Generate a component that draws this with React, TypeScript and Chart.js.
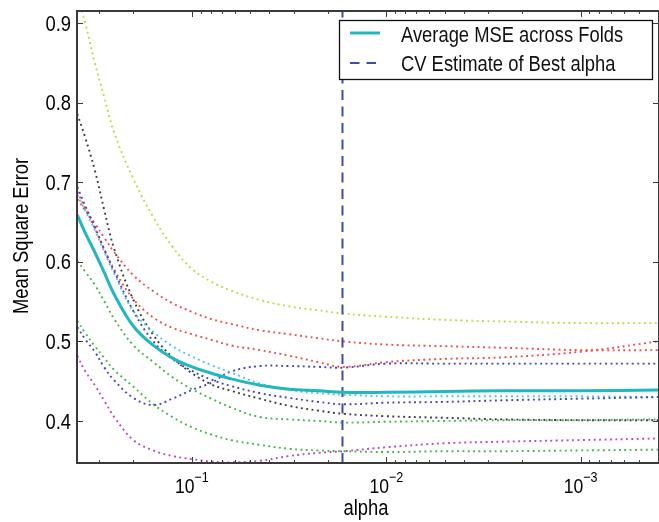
import React, { useEffect, useRef } from "react";
import { Chart, registerables } from "chart.js";

Chart.register(...registerables);

// ---- data ----
const alphas = [0.389, 0.355, 0.316, 0.282, 0.251, 0.2, 0.158, 0.126, 0.1, 0.0794, 0.0631, 0.0447, 0.0316, 0.0224, 0.0166, 0.01, 0.005, 0.0025, 0.001, 0.000398];

const avgMse = [0.659, 0.637, 0.612, 0.586, 0.559, 0.519, 0.495, 0.479, 0.468, 0.46, 0.453, 0.445, 0.44, 0.438, 0.436, 0.436, 0.437, 0.438, 0.438, 0.439];

const foldBlueA = [0.694, 0.671, 0.644, 0.615, 0.588, 0.538, 0.5, 0.478, 0.463, 0.452, 0.444, 0.435, 0.429, 0.424, 0.421, 0.423, 0.424, 0.426, 0.428, 0.43];
const foldGreenA = [0.601, 0.588, 0.571, 0.55, 0.528, 0.495, 0.474, 0.455, 0.44, 0.428, 0.417, 0.405, 0.402, 0.4, 0.398, 0.399, 0.4, 0.401, 0.401, 0.402];
const foldRedA = [0.679, 0.665, 0.648, 0.63, 0.612, 0.583, 0.563, 0.548, 0.537, 0.528, 0.522, 0.514, 0.509, 0.504, 0.5, 0.496, 0.494, 0.492, 0.489, 0.489];
const foldCyan = [0.684, 0.665, 0.64, 0.612, 0.585, 0.538, 0.512, 0.494, 0.481, 0.47, 0.461, 0.447, 0.439, 0.435, 0.433, 0.431, 0.431, 0.431, 0.431, 0.43];
const foldMagenta = [0.482, 0.463, 0.445, 0.425, 0.405, 0.376, 0.363, 0.356, 0.352, 0.349, 0.348, 0.35, 0.356, 0.36, 0.362, 0.367, 0.372, 0.374, 0.376, 0.378];
const foldYellow = [0.935, 0.901, 0.85, 0.806, 0.762, 0.704, 0.656, 0.619, 0.591, 0.575, 0.564, 0.552, 0.544, 0.539, 0.535, 0.531, 0.527, 0.525, 0.523, 0.523];
const foldBlack = [0.786, 0.757, 0.715, 0.664, 0.616, 0.552, 0.508, 0.48, 0.46, 0.446, 0.438, 0.428, 0.419, 0.413, 0.409, 0.406, 0.404, 0.402, 0.401, 0.401];
const foldBlueB = [0.518, 0.503, 0.487, 0.467, 0.451, 0.429, 0.42, 0.428, 0.439, 0.448, 0.462, 0.469, 0.469, 0.468, 0.467, 0.472, 0.472, 0.472, 0.472, 0.472];
const foldGreenB = [0.526, 0.511, 0.494, 0.479, 0.464, 0.443, 0.421, 0.405, 0.392, 0.383, 0.376, 0.37, 0.365, 0.363, 0.362, 0.361, 0.362, 0.362, 0.363, 0.364];
const foldRedB = [0.688, 0.668, 0.642, 0.615, 0.59, 0.553, 0.53, 0.517, 0.509, 0.502, 0.495, 0.489, 0.482, 0.474, 0.468, 0.474, 0.478, 0.48, 0.487, 0.5];

const foldColors = [
  "rgb(64,64,192)", "rgb(70,180,70)", "rgb(240,75,75)", "rgb(70,200,225)", "rgb(190,70,190)",
  "rgb(200,212,70)", "rgb(60,60,60)", "rgb(64,64,192)", "rgb(70,180,70)", "rgb(240,75,75)",
];

const bestAlpha = 0.0168;
const yTicks = [0.4, 0.5, 0.6, 0.7, 0.8, 0.9];
const xMajorTicks = [0.1, 0.01, 0.001];
const xMajorExponents = ["\u22121", "\u22122", "\u22123"];
const legendLabels = ["Average MSE across Folds", "CV Estimate of Best alpha"];
const xTitle = "alpha";
const yTitle = "Mean Square Error";

const X_MIN = 0.000395;
const X_MAX = 0.3903;
const Y_MIN = 0.3472;
const Y_MAX = 0.9151;

const FONT = "'Liberation Sans', Arimo, Arial, sans-serif";
const SX = 0.835; // horizontal squeeze to imitate a narrow Helvetica
const AVG_COLOR = "rgb(32,184,190)";
const BEST_COLOR = "rgb(62,78,168)";
const SPINE = "#3a3a3a";

function drawText(ctx: CanvasRenderingContext2D, text: string, x: number, y: number, size: number, align: CanvasTextAlign, rot = 0) {
  ctx.save();
  ctx.translate(x, y);
  if (rot) ctx.rotate(rot);
  ctx.scale(SX, 1);
  ctx.font = `${size}px ${FONT}`;
  ctx.textAlign = align;
  ctx.textBaseline = "alphabetic";
  ctx.fillText(text, 0, 0);
  ctx.restore();
}

function textWidth(ctx: CanvasRenderingContext2D, text: string, size: number) {
  ctx.save();
  ctx.font = `${size}px ${FONT}`;
  const w = ctx.measureText(text).width * SX;
  ctx.restore();
  return w;
}

const framePlugin = {
  id: "frameAndLegend",
  afterDraw(chart: any) {
    const { ctx, chartArea: ca, scales } = chart;
    const xs = scales.x;
    const ys = scales.y;
    ctx.save();
    const line = (x1: number, y1: number, x2: number, y2: number) => {
      ctx.beginPath();
      ctx.moveTo(x1, y1);
      ctx.lineTo(x2, y2);
      ctx.stroke();
    };
    // spines
    ctx.strokeStyle = SPINE;
    ctx.lineWidth = 2;
    ctx.strokeRect(ca.left, ca.top, ca.right - ca.left, ca.bottom - ca.top);
    // x ticks (inward, with log minor ticks)
    ctx.lineWidth = 1;
    for (let e = -4; e <= 0; e++) {
      for (let m = 1; m <= 9; m++) {
        const v = m * Math.pow(10, e);
        if (v < X_MIN || v > X_MAX) continue;
        const px = Math.round(xs.getPixelForValue(v)) + 0.5;
        const len = m === 1 ? 6 : 3;
        line(px, ca.bottom, px, ca.bottom - len);
        line(px, ca.top, px, ca.top + len);
      }
    }
    // y ticks
    for (const v of yTicks) {
      const py = Math.round(ys.getPixelForValue(v)) + 0.5;
      line(ca.left, py, ca.left + 6, py);
      line(ca.right, py, ca.right - 6, py);
    }
    ctx.fillStyle = "#000";
    // y tick labels
    for (const v of yTicks) {
      const py = ys.getPixelForValue(v);
      drawText(ctx, v.toFixed(1), ca.left - 6, py + 7.7, 22, "right");
    }
    // x tick labels 10^-n
    xMajorTicks.forEach((v, i) => {
      const px = xs.getPixelForValue(v);
      const w1 = textWidth(ctx, "10", 21);
      const w2 = textWidth(ctx, xMajorExponents[i], 15);
      const start = px - (w1 + w2) / 2;
      drawText(ctx, "10", start, ca.bottom + 30, 21, "left");
      drawText(ctx, xMajorExponents[i], start + w1, ca.bottom + 19, 15, "left");
    });
    // axis titles
    drawText(ctx, xTitle, (ca.left + ca.right) / 2 - 2, ca.bottom + 52, 22, "center");
    drawText(ctx, yTitle, 28, (ca.top + ca.bottom) / 2 - 1, 22, "center", -Math.PI / 2);
    // legend
    const lx = ca.right - 320;
    const ly = ca.top + 9;
    const lw = 314;
    const lh = 60;
    ctx.fillStyle = "#fff";
    ctx.fillRect(lx, ly, lw, lh);
    ctx.strokeStyle = "#111";
    ctx.lineWidth = 1.3;
    ctx.strokeRect(lx + 0.5, ly + 0.5, lw - 1, lh - 1);
    ctx.strokeStyle = AVG_COLOR;
    ctx.lineWidth = 3;
    line(lx + 11, ly + 13, lx + 41, ly + 13);
    ctx.strokeStyle = BEST_COLOR;
    ctx.lineWidth = 2;
    ctx.setLineDash([9.5, 7]);
    line(lx + 11, ly + 43, lx + 41, ly + 43);
    ctx.setLineDash([]);
    ctx.fillStyle = "#111";
    drawText(ctx, legendLabels[0], lx + 62, ly + 22, 22, "left");
    drawText(ctx, legendLabels[1], lx + 62, ly + 51, 22, "left");
    ctx.restore();
  },
};

export default function App() {
  const ref = useRef<HTMLCanvasElement>(null);
  useEffect(() => {
    const canvas = ref.current;
    if (!canvas) return;
    const folds = [foldBlueA, foldGreenA, foldRedA, foldCyan, foldMagenta, foldYellow, foldBlack, foldBlueB, foldGreenB, foldRedB];
    const foldSets = folds.map((vals, k) => ({
      label: `Fold ${k + 1}`,
      data: alphas.map((a, i) => ({ x: a, y: vals[i] })),
      borderColor: foldColors[k],
      borderWidth: 1.9,
      borderDash: [1.9, 3.5],
      pointRadius: 0,
      fill: false,
      tension: 0.4,
      order: 3,
    }));
    const chart = new Chart(canvas, {
      type: "line",
      data: {
        datasets: [
          {
            label: legendLabels[0],
            data: alphas.map((a, i) => ({ x: a, y: avgMse[i] })),
            borderColor: AVG_COLOR,
            borderWidth: 3,
            pointRadius: 0,
            fill: false,
            tension: 0.4,
            order: 1,
          },
          {
            label: legendLabels[1],
            data: [
              { x: bestAlpha, y: Y_MIN },
              { x: bestAlpha, y: Y_MAX },
            ],
            borderColor: BEST_COLOR,
            borderWidth: 2,
            borderDash: [10, 6.5],
            pointRadius: 0,
            fill: false,
            tension: 0,
            order: 2,
          },
          ...foldSets,
        ] as any,
      },
      options: {
        animation: false,
        responsive: true,
        maintainAspectRatio: false,
        layout: { padding: { top: 11, right: 0, left: 0, bottom: 0 } },
        plugins: { legend: { display: false }, tooltip: { enabled: false } },
        scales: {
          x: {
            type: "logarithmic",
            reverse: true,
            min: X_MIN,
            max: X_MAX,
            grid: { display: false, drawTicks: false },
            border: { display: false },
            ticks: { display: false },
            afterFit: (s: any) => {
              s.height = 59;
              s.paddingLeft = 0;
              s.paddingRight = 0;
            },
          },
          y: {
            type: "linear",
            min: Y_MIN,
            max: Y_MAX,
            grid: { display: false, drawTicks: false },
            border: { display: false },
            ticks: { display: false },
            afterFit: (s: any) => {
              s.width = 77;
              s.paddingTop = 0;
              s.paddingBottom = 0;
            },
          },
        },
      },
      plugins: [framePlugin],
    });
    return () => chart.destroy();
  }, []);
  return (
    <div style={{ position: "fixed", left: 0, top: 0, width: 659, height: 522, background: "#fff" }}>
      <canvas ref={ref} />
    </div>
  );
}
